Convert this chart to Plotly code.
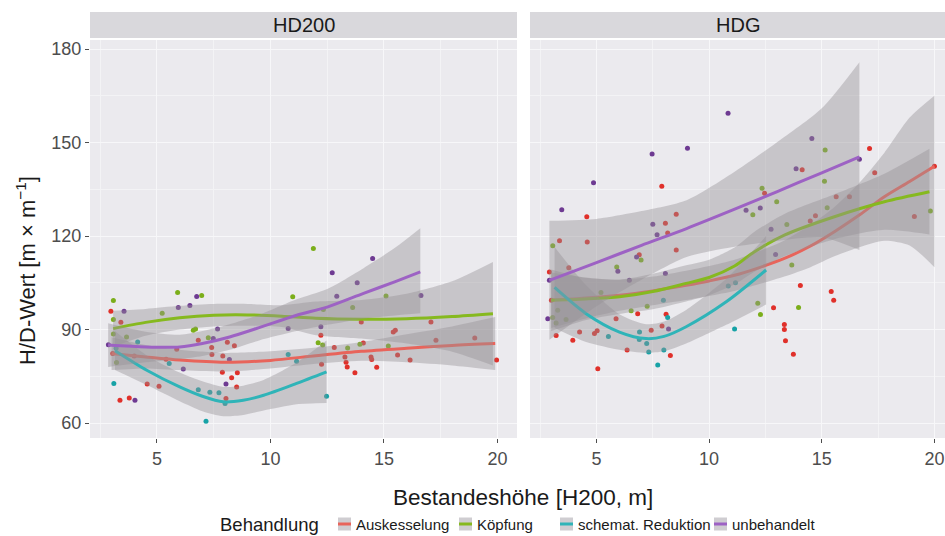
import plotly.graph_objects as go

W, H = 945, 536
FONT = "Liberation Sans, Arial, sans-serif"

GROUPS = ["Auskesselung", "Köpfung", "schemat. Reduktion", "unbehandelt"]
LINE_COLORS = ["#E8645B", "#86B91F", "#2FB4B8", "#9D62C4"]
POINT_COLORS = ["#E0302A", "#7BAE1A", "#17A2A6", "#6E3A92"]
PANELS = ["HD200", "HDG"]

X_TICKS = [5, 10, 15, 20]
Y_TICKS = [60, 90, 120, 150, 180]

# ---------------- observed points (x = H200, y = H/D) ----------------
HD200_AUS = [(2.97, 95.9), (3.37, 67.3), (3.78, 68.0), (8.29, 74.5), (7.88, 76.3), (8.54, 76.1),
             (8.51, 71.6), (4.57, 72.5), (5.09, 71.8), (3.41, 92.3), (6.82, 86.6), (8.41, 84.8),
             (8.1, 85.9), (5.87, 83.7), (7.41, 84.2), (7.42, 82.0), (7.9, 81.5), (3.05, 82.3),
             (8.04, 67.9), (4.0, 81.5), (5.4, 80.5), (14.0, 92.4), (17.07, 92.4), (15.41, 89.2),
             (15.5, 89.8), (17.29, 86.6), (19.0, 87.3), (12.22, 88.2), (14.09, 85.7), (12.81, 84.2),
             (13.28, 81.2), (13.33, 79.5), (13.38, 78.0), (13.72, 76.1), (14.43, 81.2), (14.46, 80.4),
             (14.68, 77.9), (15.6, 81.8), (16.15, 80.2), (19.96, 80.2), (12.25, 78.9)]
HD200_KOE = [(3.08, 99.3), (3.08, 93.2), (3.08, 88.6), (3.22, 79.4), (3.66, 87.6), (5.91, 101.9),
             (5.23, 95.2), (6.97, 100.9), (6.6, 89.8), (6.7, 90.2), (7.26, 87.4), (10.98, 100.5),
             (11.89, 116.0), (15.09, 100.8), (13.62, 97.1), (12.33, 96.4), (12.1, 85.8), (12.3, 85.0),
             (13.4, 84.1), (13.94, 85.3), (15.19, 84.7)]
HD200_RED = [(3.1, 72.7), (4.15, 86.0), (5.54, 79.1), (6.82, 70.7), (7.33, 69.9), (7.73, 69.7),
             (7.16, 60.6), (8.0, 66.3), (10.78, 82.0), (11.15, 79.8), (12.47, 68.6), (3.2, 84.0)]
HD200_UNB = [(2.86, 85.1), (3.55, 95.9), (4.03, 67.3), (5.94, 97.1), (6.45, 97.7), (6.75, 100.6),
             (7.67, 90.2), (7.48, 87.1), (6.16, 77.3), (8.04, 72.5), (8.19, 80.4), (10.78, 90.3),
             (14.5, 112.8), (12.72, 108.2), (13.82, 105.0), (12.92, 100.7), (16.63, 100.9), (12.22, 90.9)]

HDG_AUS = [(7.9, 136.0), (4.57, 126.2), (8.54, 127.0), (3.36, 118.5), (4.59, 118.1), (8.06, 124.1),
           (8.16, 121.0), (8.54, 115.5), (6.9, 114.0), (2.91, 108.5), (3.77, 109.8), (3.0, 99.4),
           (6.83, 95.1), (8.09, 94.9), (5.87, 93.5), (3.21, 88.1), (4.25, 89.2), (3.95, 86.6),
           (4.91, 88.7), (5.03, 89.6), (7.43, 89.8), (7.91, 91.1), (6.36, 83.4), (8.28, 81.7),
           (5.06, 77.4), (17.12, 148.1), (14.13, 141.3), (17.35, 140.3), (20.0, 142.4), (12.46, 133.7),
           (15.64, 132.6), (16.23, 132.6), (19.11, 126.3), (14.72, 126.5), (14.49, 124.8), (14.05, 104.1),
           (15.42, 102.2), (15.53, 99.4), (12.86, 97.0), (13.34, 91.6), (13.34, 90.0), (13.39, 86.4),
           (13.74, 82.1)]
HDG_KOE = [(6.98, 112.3), (3.06, 116.9), (5.9, 110.1), (5.2, 101.9), (6.54, 96.0), (7.25, 97.5),
           (3.06, 93.9), (3.28, 96.2), (3.21, 92.1), (3.65, 93.2), (15.15, 147.6), (15.12, 137.6),
           (12.35, 135.3), (13.0, 131.0), (11.94, 126.8), (15.24, 129.1), (19.82, 128.0), (13.45, 123.7),
           (13.67, 110.7), (12.16, 98.4), (12.28, 94.8), (13.97, 97.1)]
HDG_RED = [(7.97, 99.4), (8.16, 93.9), (5.53, 87.8), (6.91, 89.2), (6.9, 86.8), (7.23, 85.5),
           (7.32, 82.8), (7.99, 83.4), (7.72, 78.6), (11.13, 90.2), (11.17, 105.0), (10.85, 104.0)]
HDG_UNB = [(10.84, 159.4), (7.47, 146.3), (9.04, 148.2), (4.87, 137.1), (3.46, 128.4), (7.5, 123.8),
           (7.69, 120.4), (6.78, 113.3), (5.95, 108.7), (2.91, 105.8), (8.06, 108.0), (6.46, 105.8),
           (2.84, 93.5), (8.2, 90.2), (14.56, 151.3), (13.86, 141.6), (16.67, 144.6), (12.27, 129.0),
           (11.64, 128.3), (12.75, 122.2), (12.95, 114.1)]

# ---------------- loess fits with confidence band ----------------
FIT_HD200_AUS_X = [3.0, 4.5, 6.0, 8.0, 10.0, 12.0, 14.0, 16.0, 18.0, 19.9]
FIT_HD200_AUS_Y = [82.3, 81.2, 80.2, 79.5, 80.1, 81.6, 83.0, 84.0, 84.9, 85.5]
FIT_HD200_AUS_LO = [77.0, 77.5, 77.0, 76.5, 77.5, 79.0, 80.0, 79.5, 78.5, 77.0]
FIT_HD200_AUS_HI = [87.5, 85.0, 83.5, 82.5, 83.0, 84.2, 86.0, 88.5, 91.0, 94.0]

FIT_HD200_KOE_X = [3.07, 4.5, 6.0, 7.5, 9.0, 10.5, 12.0, 14.0, 16.0, 18.0, 19.8]
FIT_HD200_KOE_Y = [90.3, 92.3, 93.8, 94.6, 94.7, 94.3, 93.6, 93.3, 93.5, 94.2, 95.1]
FIT_HD200_KOE_LO = [84.5, 88.0, 90.0, 91.0, 91.2, 90.8, 88.2, 87.1, 85.5, 82.9, 78.5]
FIT_HD200_KOE_HI = [96.0, 96.6, 97.6, 98.2, 98.2, 97.8, 99.0, 99.5, 101.5, 105.5, 111.7]

FIT_HD200_RED_X = [3.15, 4.55, 6.0, 7.0, 7.92, 8.8, 9.7, 11.15, 12.47]
FIT_HD200_RED_Y = [83.2, 76.95, 71.6, 68.6, 66.8, 67.3, 68.9, 72.7, 76.4]
FIT_HD200_RED_LO = [77.0, 72.2, 67.0, 63.8, 62.2, 62.6, 64.0, 66.0, 66.4]
FIT_HD200_RED_HI = [89.5, 81.7, 76.2, 73.4, 71.6, 72.0, 73.8, 79.4, 86.5]

FIT_HD200_UNB_X = [2.85, 4.5, 6.0, 7.0, 8.2, 9.5, 11.15, 12.5, 14.1, 15.5, 16.6]
FIT_HD200_UNB_Y = [85.0, 84.4, 84.4, 85.5, 87.6, 90.6, 94.6, 97.2, 101.6, 105.4, 108.5]
FIT_HD200_UNB_LO = [78.0, 79.5, 80.5, 81.5, 83.5, 86.5, 89.5, 91.5, 93.5, 94.5, 95.2]
FIT_HD200_UNB_HI = [92.0, 89.3, 88.3, 89.5, 91.7, 94.7, 99.7, 103.0, 109.7, 116.3, 122.5]

FIT_HDG_AUS_X = [2.99, 4.5, 6.02, 7.5, 8.98, 10.0, 11.13, 12.2, 13.34, 14.5, 15.56, 16.7, 17.78, 18.9, 20.0]
FIT_HDG_AUS_Y = [99.4, 100.1, 101.0, 102.4, 104.2, 105.6, 107.4, 109.8, 112.8, 116.8, 121.4, 126.9, 132.6, 137.5, 142.4]
FIT_HDG_AUS_LO = [90.5, 93.5, 96.0, 97.8, 99.5, 100.8, 102.4, 104.5, 107.0, 110.0, 113.5, 116.5, 118.5, 117.0, 110.0]
FIT_HDG_AUS_HI = [108.3, 106.7, 106.0, 107.0, 108.9, 110.4, 112.4, 115.1, 118.6, 123.6, 129.3, 137.3, 146.7, 158.0, 165.0]

FIT_HDG_KOE_X = [2.99, 4.5, 6.02, 7.5, 8.98, 10.0, 11.13, 12.0, 13.34, 15.56, 17.78, 19.78]
FIT_HDG_KOE_Y = [99.4, 99.8, 100.5, 102.2, 104.8, 106.7, 110.4, 114.9, 120.3, 126.2, 131.0, 134.2]
FIT_HDG_KOE_LO = [89.5, 93.0, 95.0, 96.5, 99.0, 101.0, 104.5, 108.5, 113.5, 119.0, 122.0, 120.5]
FIT_HDG_KOE_HI = [109.3, 106.6, 106.0, 107.9, 110.6, 112.4, 116.3, 121.3, 127.1, 133.4, 140.0, 148.0]

FIT_HDG_RED_X = [3.14, 4.54, 6.02, 7.2, 8.0, 8.98, 10.76, 12.53]
FIT_HDG_RED_Y = [103.5, 95.1, 89.2, 87.1, 87.8, 90.9, 98.9, 109.1]
FIT_HDG_RED_LO = [90.5, 86.0, 83.5, 82.5, 83.0, 85.5, 91.5, 98.0]
FIT_HDG_RED_HI = [116.5, 104.2, 94.9, 91.7, 92.6, 96.3, 106.3, 120.0]

FIT_HDG_UNB_X = [2.91, 5.0, 7.0, 9.0, 11.0, 13.0, 15.0, 16.67]
FIT_HDG_UNB_Y = [105.8, 111.5, 117.0, 122.4, 128.2, 134.2, 140.3, 145.4]
FIT_HDG_UNB_LO = [86.7, 97.5, 106.0, 113.3, 116.4, 118.4, 119.6, 115.5]
FIT_HDG_UNB_HI = [124.9, 125.5, 128.0, 131.5, 140.0, 150.0, 161.0, 175.8]

POINTS = {
    "HD200": [HD200_AUS, HD200_KOE, HD200_RED, HD200_UNB],
    "HDG": [HDG_AUS, HDG_KOE, HDG_RED, HDG_UNB],
}
FITS = {
    "HD200": [
        (FIT_HD200_AUS_X, FIT_HD200_AUS_Y, FIT_HD200_AUS_LO, FIT_HD200_AUS_HI),
        (FIT_HD200_KOE_X, FIT_HD200_KOE_Y, FIT_HD200_KOE_LO, FIT_HD200_KOE_HI),
        (FIT_HD200_RED_X, FIT_HD200_RED_Y, FIT_HD200_RED_LO, FIT_HD200_RED_HI),
        (FIT_HD200_UNB_X, FIT_HD200_UNB_Y, FIT_HD200_UNB_LO, FIT_HD200_UNB_HI),
    ],
    "HDG": [
        (FIT_HDG_AUS_X, FIT_HDG_AUS_Y, FIT_HDG_AUS_LO, FIT_HDG_AUS_HI),
        (FIT_HDG_KOE_X, FIT_HDG_KOE_Y, FIT_HDG_KOE_LO, FIT_HDG_KOE_HI),
        (FIT_HDG_RED_X, FIT_HDG_RED_Y, FIT_HDG_RED_LO, FIT_HDG_RED_HI),
        (FIT_HDG_UNB_X, FIT_HDG_UNB_Y, FIT_HDG_UNB_LO, FIT_HDG_UNB_HI),
    ],
}


def px(x):
    return x / W


def py(y):
    return 1 - y / H


fig = go.Figure()
AXES = {"HD200": ("x", "y"), "HDG": ("x2", "y2")}
BAND_FILL = "rgba(150,146,150,0.42)"

for panel in PANELS:
    xa, ya = AXES[panel]
    for g, pts in enumerate(POINTS[panel]):
        fig.add_trace(go.Scatter(
            x=[p[0] for p in pts], y=[p[1] for p in pts], mode="markers",
            marker=dict(size=5, color=POINT_COLORS[g], line=dict(width=0)),
            xaxis=xa, yaxis=ya, showlegend=False, hoverinfo="skip"))
    for g, (fx, fy, flo, fhi) in enumerate(FITS[panel]):
        # confidence band: lower edge, then upper edge filled down to it
        fig.add_trace(go.Scatter(
            x=fx, y=flo, mode="lines",
            line=dict(width=0, shape="spline", smoothing=0.7, color="rgba(0,0,0,0)"),
            xaxis=xa, yaxis=ya, showlegend=False, hoverinfo="skip"))
        fig.add_trace(go.Scatter(
            x=fx, y=fhi, mode="lines", fill="tonexty", fillcolor=BAND_FILL,
            line=dict(width=0, shape="spline", smoothing=0.7, color="rgba(0,0,0,0)"),
            xaxis=xa, yaxis=ya, showlegend=False, hoverinfo="skip"))
        fig.add_trace(go.Scatter(
            x=fx, y=fy, mode="lines",
            line=dict(color=LINE_COLORS[g], width=3, shape="spline", smoothing=0.8),
            xaxis=xa, yaxis=ya, showlegend=False, hoverinfo="skip"))

PANEL_X = {"HD200": (90, 517), "HDG": (530, 945)}
PANEL_Y = (40, 438)
STRIP_Y = (12, 38)
X_RANGE_L = [2.05, 20.86]
X_RANGE_R = [2.05, 20.47]
Y_RANGE = [55.2, 182.9]

tickfont = dict(family=FONT, size=18, color="#4D4D4D")
common_x = dict(tickmode="array", tickvals=X_TICKS, ticks="outside", ticklen=4, tickwidth=1,
                tickcolor="#4D4D4D", showgrid=True, gridcolor="#F7F7F9", gridwidth=1.2,
                zeroline=False, showline=False, tickfont=tickfont,
                minor=dict(tickvals=[2.5, 7.5, 12.5, 17.5], showgrid=True, gridcolor="#F3F3F5",
                           gridwidth=0.5, ticks=""))
common_y = dict(tickmode="array", tickvals=Y_TICKS, range=Y_RANGE, showgrid=True,
                gridcolor="#F7F7F9", gridwidth=1.2, zeroline=False, showline=False,
                domain=[py(PANEL_Y[1]), py(PANEL_Y[0])],
                minor=dict(tickvals=[75, 105, 135, 165], showgrid=True, gridcolor="#F3F3F5",
                           gridwidth=0.5, ticks=""))

fig.update_layout(
    width=W, height=H, margin=dict(l=0, r=0, t=0, b=0),
    paper_bgcolor="white", plot_bgcolor="#EBEAEE",
    showlegend=False,
    xaxis=dict(domain=[px(PANEL_X["HD200"][0]), px(PANEL_X["HD200"][1])], range=X_RANGE_L,
               anchor="y", **common_x),
    xaxis2=dict(domain=[px(PANEL_X["HDG"][0]), px(PANEL_X["HDG"][1])], range=X_RANGE_R,
                anchor="y2", **common_x),
    yaxis=dict(anchor="x", ticks="outside", ticklen=4, tickwidth=1, tickcolor="#4D4D4D",
               tickfont=tickfont, **common_y),
    yaxis2=dict(anchor="x2", showticklabels=False, ticks="", **common_y),
)

shapes = []
annotations = []
for panel in PANELS:
    x0, x1 = PANEL_X[panel]
    shapes.append(dict(type="rect", xref="paper", yref="paper", x0=px(x0), x1=px(x1),
                       y0=py(STRIP_Y[1]), y1=py(STRIP_Y[0]), fillcolor="#D9D8DC",
                       line=dict(width=0), layer="below"))
    annotations.append(dict(text=panel, xref="paper", yref="paper",
                            x=px((x0 + x1) / 2), y=py((STRIP_Y[0] + STRIP_Y[1]) / 2),
                            showarrow=False, font=dict(family=FONT, size=20, color="#1A1A1A"),
                            xanchor="center", yanchor="middle"))

annotations.append(dict(text="H/D-Wert [m × m<sup>−1</sup>]", xref="paper", yref="paper",
                        x=px(26), y=py(271), textangle=-90, showarrow=False,
                        font=dict(family=FONT, size=22, color="#1A1A1A"),
                        xanchor="center", yanchor="middle"))
annotations.append(dict(text="Bestandeshöhe [H200, m]", xref="paper", yref="paper",
                        x=px(523), y=py(497), showarrow=False,
                        font=dict(family=FONT, size=22.5, color="#1A1A1A"),
                        xanchor="center", yanchor="middle"))

# legend (ggplot style, bottom)
LEG_Y = 524
annotations.append(dict(text="Behandlung", xref="paper", yref="paper", x=px(218), y=py(LEG_Y),
                        showarrow=False, font=dict(family=FONT, size=18.5, color="#1A1A1A"),
                        xanchor="left", yanchor="middle"))
KEY_X = [338, 459, 560, 714]
for g, name in enumerate(GROUPS):
    kx = KEY_X[g]
    shapes.append(dict(type="rect", xref="paper", yref="paper", x0=px(kx), x1=px(kx + 13),
                       y0=py(LEG_Y + 6.5), y1=py(LEG_Y - 6.5), fillcolor="#CFCDD1",
                       line=dict(width=0)))
    shapes.append(dict(type="line", xref="paper", yref="paper", x0=px(kx), x1=px(kx + 13),
                       y0=py(LEG_Y), y1=py(LEG_Y), line=dict(color=LINE_COLORS[g], width=3)))
    annotations.append(dict(text=name, xref="paper", yref="paper", x=px(kx + 16), y=py(LEG_Y),
                            showarrow=False, font=dict(family=FONT, size=15, color="#1A1A1A"),
                            xanchor="left", yanchor="middle"))

fig.update_layout(shapes=shapes, annotations=annotations)
fig.write_html("out.html")
